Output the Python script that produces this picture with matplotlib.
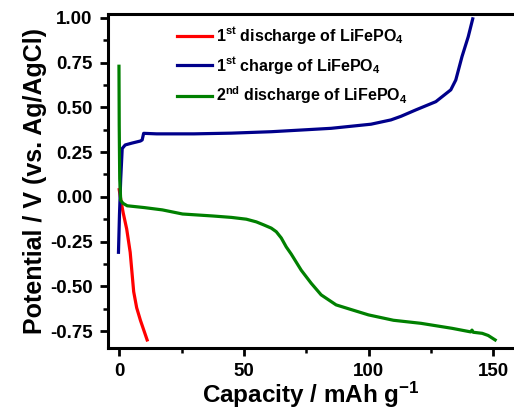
import numpy as np
import matplotlib
matplotlib.use('Agg')
import matplotlib.pyplot as plt
from matplotlib.ticker import MultipleLocator

plt.rcParams['font.family'] = ['Liberation Sans', 'DejaVu Sans']
plt.rcParams['font.weight'] = 'bold'
plt.rcParams['mathtext.fontset'] = 'custom'
plt.rcParams['mathtext.rm'] = 'Liberation Sans:bold'
plt.rcParams['mathtext.bf'] = 'Liberation Sans:bold'
plt.rcParams['mathtext.default'] = 'bf'

# 1st discharge
cap_dis1 = [0.0, 0.8, 1.6, 3.0, 4.4, 5.8, 7.0, 8.5, 11.2]
pot_dis1 = [0.04, -0.03, -0.09, -0.18, -0.31, -0.53, -0.62, -0.69, -0.80]

# 1st charge
cap_ch1 = [-0.3, 0.1, 0.6, 1.2, 2.4, 5.0, 8.5, 9.2, 9.8, 15, 30, 45, 61, 75, 85,
           101, 109, 113, 119, 127, 133, 135, 137.5, 140, 141.8]
pot_ch1 = [-0.31, -0.1, 0.1, 0.27, 0.29, 0.30, 0.312, 0.318, 0.355, 0.352, 0.352,
           0.356, 0.364, 0.375, 0.383, 0.406, 0.43, 0.45, 0.486, 0.532, 0.598,
           0.653, 0.784, 0.895, 0.995]

# 2nd discharge
cap_dis2 = [-0.1, 0.0, 0.2, 0.6, 1.5, 3.2, 10, 17.3, 25.4, 37.5, 45, 51, 55, 58,
            61, 63, 65, 67, 69, 73, 77, 81, 87, 93, 100, 110, 121, 133.5, 141,
            141.5, 142, 145.6, 148, 150.8]
pot_dis2 = [0.73, 0.4, 0.1, -0.02, -0.036, -0.05, -0.06, -0.073, -0.096, -0.107,
            -0.115, -0.125, -0.14, -0.157, -0.175, -0.195, -0.23, -0.28, -0.32,
            -0.41, -0.483, -0.548, -0.604, -0.63, -0.66, -0.69, -0.707, -0.735,
            -0.755, -0.745, -0.757, -0.763, -0.775, -0.80]

x_major = [0, 50, 100, 150]
x_minor = [25, 75, 125]

fig = plt.figure(figsize=(5.14, 4.09), dpi=100)
# axes run past the right edge of the picture, as in the cropped original
ax = fig.add_axes([108/514, 1 - 348/409, 600/514, 334/409])

ax.plot(cap_dis1, pot_dis1, color='#ff0000', lw=2.3, label='1$^{st}$ discharge of LiFePO$_4$')
ax.plot(cap_ch1, pot_ch1, color='#00008b', lw=2.3, label='1$^{st}$ charge of LiFePO$_4$')
ax.plot(cap_dis2, pot_dis2, color='#008000', lw=2.3, label='2$^{nd}$ discharge of LiFePO$_4$')

# 2.493 px per mAh/g, 0 at x=119 px
ax.set_xlim(-4.5, -4.5 + 600 / 2.493)
ax.set_ylim(-0.845, 1.022)
ax.set_xticks(x_major)
ax.set_xticks(x_minor, minor=True)
ax.yaxis.set_major_locator(MultipleLocator(0.25))
ax.yaxis.set_minor_locator(MultipleLocator(0.125))
ax.yaxis.set_major_formatter(matplotlib.ticker.FormatStrFormatter('%.2f'))

for s in ax.spines.values():
    s.set_linewidth(2.2)
ax.spines['right'].set_visible(False)
ax.tick_params(which='major', direction='out', length=6, width=2.0, labelsize=13.5, pad=5)
ax.tick_params(which='minor', direction='out', length=3.5, width=1.8)
ax.tick_params(top=False, right=False)
for lab in ax.get_xticklabels() + ax.get_yticklabels():
    lab.set_fontweight('bold')

ax.set_xlabel('Capacity / mAh g$^{-1}$', fontsize=17.5, fontweight='bold')
ax.xaxis.set_label_coords((311 - 108) / 600, -0.094)
ax.set_ylabel('Potential / V (vs. Ag/AgCl)', fontsize=18, fontweight='bold', labelpad=2)

leg = ax.legend(loc='upper left', bbox_to_anchor=(58 / 600, 1.0), frameon=False,
                fontsize=11.5, handlelength=2.2, handletextpad=0.25, labelspacing=0.55,
                borderaxespad=0.3)

fig.savefig('out.png', dpi=100)
